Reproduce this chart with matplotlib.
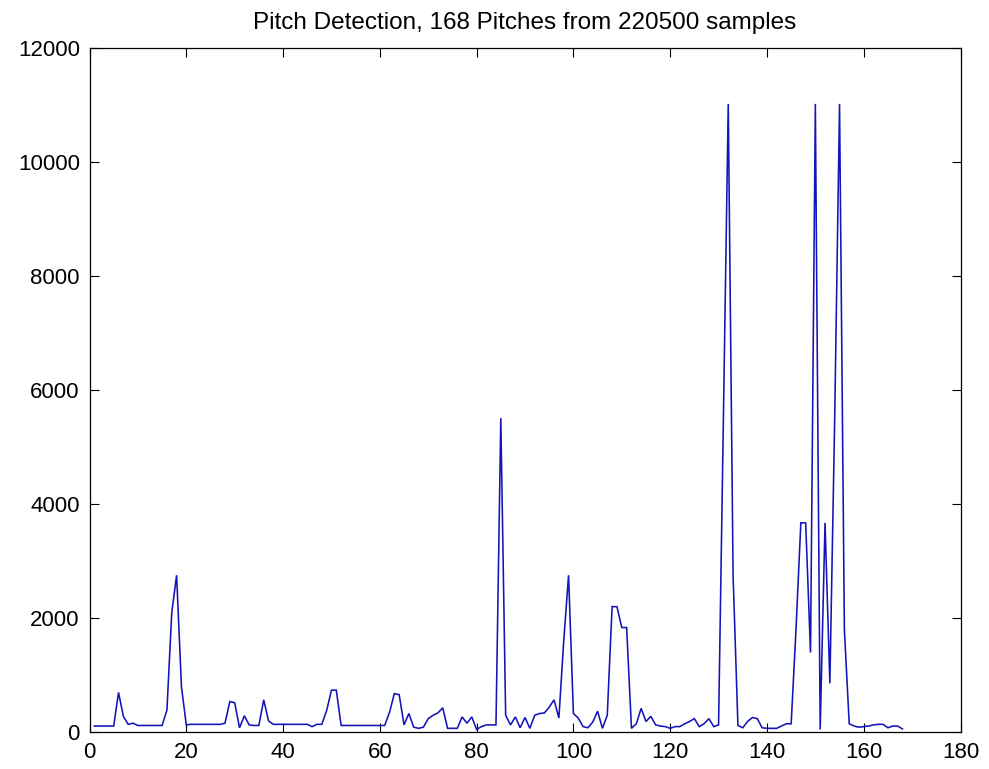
import matplotlib
matplotlib.use("Agg")
import matplotlib.pyplot as plt
import numpy as np

pitch_values = [
    110, 110, 110, 110, 110, 700, 280, 140, 160, 120,
    120, 120, 120, 120, 120, 390, 2100, 2756, 800, 130,
    140, 140, 140, 140, 140, 140, 140, 160, 540, 520,
    80, 290, 130, 120, 120, 570, 200, 140, 140, 140,
    140, 140, 140, 140, 140, 100, 140, 140, 380, 740,
    740, 120, 120, 120, 120, 120, 120, 120, 120, 120,
    120, 350, 680, 660, 130, 330, 90, 70, 90, 240,
    300, 340, 430, 70, 70, 70, 270, 160, 270, 50,
    100, 130, 130, 130, 5512, 300, 130, 270, 80, 260,
    70, 300, 330, 340, 440, 570, 250, 1600, 2756, 330,
    250, 100, 80, 180, 370, 70, 300, 2205, 2205, 1838,
    1838, 70, 150, 420, 190, 280, 130, 110, 100, 70,
    100, 100, 150, 190, 240, 100, 150, 240, 100, 130,
    5512, 11025, 2756, 120, 80, 190, 260, 240, 80, 70,
    70, 70, 110, 150, 150, 1800, 3675, 3675, 1400, 11025,
    50, 3675, 860, 5512, 11025, 1800, 150, 110, 90, 100,
    110, 130, 140, 140, 80, 110, 110, 60,
]
pitch_index = list(range(1, len(pitch_values) + 1))

x_ticks = [0, 20, 40, 60, 80, 100, 120, 140, 160, 180]
y_ticks = [0, 2000, 4000, 6000, 8000, 10000, 12000]
title_text = "Pitch Detection, 168 Pitches from 220500 samples"

plt.rcParams['font.family'] = ['Liberation Sans', 'DejaVu Sans']

fig = plt.figure(figsize=(9.89, 7.69), dpi=100)
ax = fig.add_axes([0.0905, 0.0477, 0.8807, 0.8895])

ax.plot(pitch_index, pitch_values, color='#1414b8', lw=1.15, solid_joinstyle='miter')

ax.set_xlim(0, 180)
ax.set_ylim(0, 12000)
ax.set_xticks(x_ticks)
ax.set_yticks(y_ticks)
ax.set_xticklabels([str(v) for v in x_ticks])
ax.set_yticklabels([str(v) for v in y_ticks])
ax.tick_params(direction='in', length=6.5, width=0.8, top=True, right=True,
               labelsize=16, pad=7, colors='black')
for s in ax.spines.values():
    s.set_linewidth(0.9)
    s.set_color('black')

ax.set_title(title_text, fontsize=17.5, pad=14)

fig.savefig("out.png", dpi=100)
